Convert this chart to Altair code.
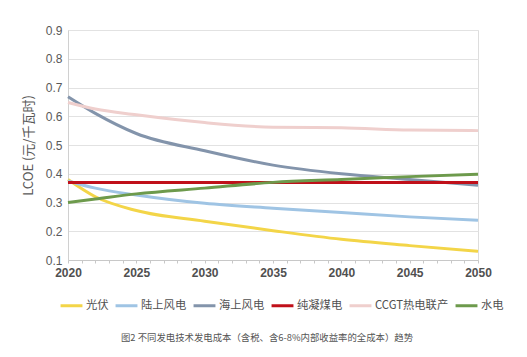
import altair as alt
import pandas as pd

years = [2020, 2022, 2025, 2030, 2035, 2040, 2045, 2050]
series_names = ["光伏", "陆上风电", "海上风电", "纯凝煤电", "CCGT热电联产", "水电"]
pv = [0.38, 0.32, 0.272, 0.235, 0.202, 0.172, 0.15, 0.13]
onshore = [0.375, 0.35, 0.326, 0.297, 0.28, 0.265, 0.25, 0.238]
offshore = [0.668, 0.61, 0.54, 0.48, 0.43, 0.40, 0.38, 0.36]
coal = [0.37, 0.37, 0.37, 0.37, 0.37, 0.37, 0.37, 0.37]
ccgt = [0.648, 0.625, 0.605, 0.578, 0.562, 0.56, 0.552, 0.55]
hydro = [0.30, 0.312, 0.33, 0.35, 0.37, 0.38, 0.39, 0.398]
colors = ["#f3d548", "#9fc4e4", "#8394ab", "#c0101a", "#efcfcd", "#6d9a4c"]
caption = "图2 不同发电技术发电成本（含税、含6-8%内部收益率的全成本）趋势"

rows = []
for name, vals in zip(series_names, [pv, onshore, offshore, coal, ccgt, hydro]):
    for y, v in zip(years, vals):
        rows.append({"year": y, "value": v, "series": name, "order": series_names.index(name)})
df = pd.DataFrame(rows)

font = "Liberation Sans"
cjk = "Noto Sans CJK SC"

lines = alt.Chart(df).mark_line(strokeWidth=3, interpolate="monotone").encode(
    x=alt.X("year:Q", scale=alt.Scale(domain=[2020, 2050], nice=False),
            axis=alt.Axis(values=list(range(2020, 2051)), title=None, grid=False,
                          labelExpr="datum.value % 5 == 0 ? datum.value : ''",
                          format="d", tickSize=3, tickColor="#c8c8c8", domainColor="#c8c8c8",
                          labelColor="#505050", labelFontSize=12, labelFont=font,
                          labelFontWeight="bold", labelPadding=4, labelFlush=False)),
    y=alt.Y("value:Q", scale=alt.Scale(domain=[0.1, 0.9], nice=False),
            axis=alt.Axis(values=[0.1, 0.2, 0.3, 0.4, 0.5, 0.6, 0.7, 0.8, 0.9], format=".1f",
                          title="LCOE (元/千瓦时)", titleFont=cjk, titleFontSize=13,
                          titleFontWeight="normal", titleColor="#595959", titlePadding=10,
                          labelColor="#595959", labelFontSize=12, labelFont=font,
                          ticks=False, labelPadding=6, gridColor="#e2e2e2",
                          domainColor="#d0d0d0")),
    color=alt.Color("series:N", scale=alt.Scale(domain=series_names, range=colors),
                    legend=alt.Legend(title=None, orient="none", legendX=-9, legendY=263,
                                      direction="horizontal", columns=6, symbolType="stroke",
                                      symbolStrokeWidth=3, symbolSize=480, labelFont=cjk,
                                      labelFontSize=11.3, labelColor="#505050", labelOffset=2,
                                      columnPadding=0, symbolOffset=0)),
    order=alt.Order("order:Q"),
)

chart = lines.properties(
    width=410, height=230,
    autosize=alt.AutoSizeParams(type="none"),
    padding={"left": 68, "top": 30, "right": 49, "bottom": 97},
    title=alt.TitleParams(caption, orient="bottom", anchor="middle", font=cjk, fontSize=9.4,
                          fontWeight="normal", color="#555555", offset=22, dx=-6),
).configure_view(stroke=None).configure(background="white")

chart.save("out.html", embed_options={"renderer": "svg", "actions": False})
